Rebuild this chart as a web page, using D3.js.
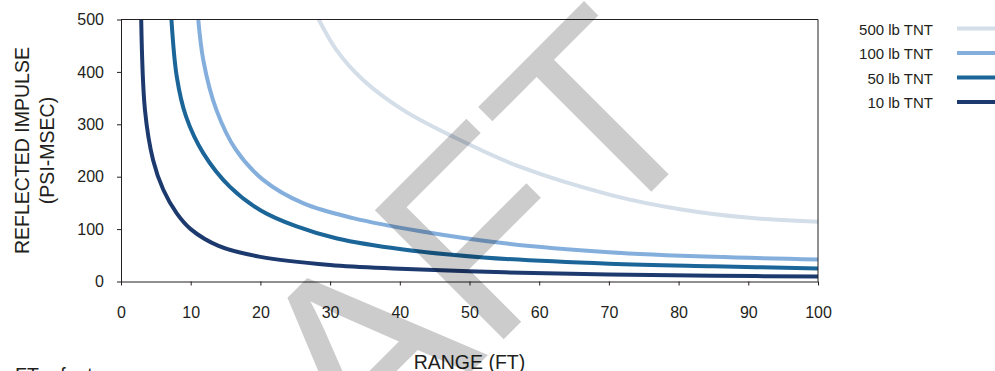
<!DOCTYPE html>
<html>
<head>
<meta charset="utf-8">
<script src="https://cdn.jsdelivr.net/npm/d3@7"></script>
<style>
    body { margin: 0; background: #fff; }
    svg text { font-family: "Liberation Sans", Arial, sans-serif; fill: #231f20; }
    .axis path, .axis line { stroke: #231f20; }
</style>
</head>
<body>
<svg id="impulse" width="995" height="371"></svg>
<script>
    // range in ft, reflected impulse in psi-msec
    var tnt10 = [[2.85, 540], [3.44, 327], [4.6, 232], [6.07, 175], [8, 130], [10, 100], [14, 68], [20, 47],
        [30, 31.5], [40, 24.5], [55, 17.5], [70, 13.5], [85, 11], [100, 9.5]];
    var tnt50 = [[7.1, 530], [8, 391], [9.35, 314], [11.8, 245], [15.6, 181], [20, 136], [25.2, 105], [31, 82],
        [40.5, 61], [52, 46], [70, 34], [85, 29], [100, 25]];
    var tnt100 = [[10.9, 530], [11.8, 423], [13.7, 327], [16.5, 251], [20.4, 194], [26.2, 149], [33.3, 121],
        [43, 96], [55, 73], [70, 56], [85, 47], [100, 42]];
    var tnt500 = [[27.6, 520], [30.9, 442], [34.7, 385], [40.5, 327], [47.7, 276], [57.2, 219], [70.6, 164],
        [80.2, 138], [89.8, 122], [100, 114]];

    var seriesNames = ["500 lb TNT", "100 lb TNT", "50 lb TNT", "10 lb TNT"];
    var seriesColors = ["#d3dee9", "#84afdd", "#1b6598", "#1d3a6f"];
    var seriesData = [tnt500, tnt100, tnt50, tnt10];

    var xTicks = [0, 10, 20, 30, 40, 50, 60, 70, 80, 90, 100];
    var yTicks = [0, 100, 200, 300, 400, 500];

    var svg = d3.select("svg#impulse"),
        margin = {top: 19.5, left: 121},
        width = 697,
        height = 262,
        g = svg.append("g").attr("transform", "translate(" + margin.left + "," + margin.top + ")");

    var x = d3.scaleLinear().domain([0, 100]).range([0, width]),
        y = d3.scaleLinear().domain([0, 500]).range([height, 0]);

    g.append("clipPath").attr("id", "plotClip")
        .append("rect").attr("width", width).attr("height", height);

    var line = d3.line()
        .curve(d3.curveCatmullRom.alpha(0.5))
        .x(function (d) { return x(d[0]); })
        .y(function (d) { return y(d[1]); });

    g.append("g")
        .attr("clip-path", "url(#plotClip)")
        .selectAll("path")
        .data(seriesData)
        .enter().append("path")
        .attr("d", line)
        .attr("fill", "none")
        .attr("stroke-width", 4)
        .attr("stroke", function (d, i) { return seriesColors[i]; });

    // frame
    g.append("path")
        .attr("d", "M0,0H" + width + "V" + height)
        .attr("fill", "none")
        .attr("stroke", "#231f20");

    var xAxis = g.append("g")
        .attr("class", "axis")
        .attr("transform", "translate(0," + height + ")")
        .call(d3.axisBottom(x).tickValues(xTicks).tickSize(4).tickPadding(21).tickSizeOuter(0));
    xAxis.selectAll("text").style("font-size", "16px");

    var yAxis = g.append("g")
        .attr("class", "axis")
        .call(d3.axisLeft(y).tickValues(yTicks).tickSize(4).tickPadding(13).tickSizeOuter(0));
    yAxis.selectAll("text").style("font-size", "16px");
    svg.selectAll(".axis .domain").attr("stroke", "#231f20");
    svg.selectAll(".axis text").attr("fill", "#231f20");

    // axis titles
    var yTitle = svg.append("text")
        .attr("transform", "translate(29," + (margin.top + height / 2) + ") rotate(-90)")
        .attr("text-anchor", "middle")
        .style("font-size", "19.5px");
    yTitle.append("tspan").attr("x", 0).attr("y", 0).text("REFLECTED IMPULSE");
    yTitle.append("tspan").attr("x", 0).attr("y", 25).text("(PSI-MSEC)");

    svg.append("text")
        .attr("x", margin.left + width / 2)
        .attr("y", 369)
        .attr("text-anchor", "middle")
        .style("font-size", "19.5px")
        .text("RANGE (FT)");

    svg.append("text")
        .attr("x", 15)
        .attr("y", 382)
        .style("font-size", "19.5px")
        .text("FT \u2013 feet");

    // legend
    var legend = svg.append("g").selectAll("g")
        .data(seriesNames)
        .enter().append("g")
        .attr("transform", function (d, i) { return "translate(0," + (28.5 + i * 24.5) + ")"; });

    legend.append("line")
        .attr("x1", 957).attr("x2", 1000)
        .attr("stroke-width", 4)
        .attr("stroke", function (d, i) { return seriesColors[i]; });

    legend.append("text")
        .attr("x", 933)
        .attr("dy", "0.42em")
        .attr("text-anchor", "end")
        .style("font-size", "15px")
        .text(function (d) { return d; });

    // watermark
    svg.append("text")
        .attr("transform", "translate(405,438) rotate(-45)")
        .attr("text-anchor", "middle")
        .style("font-size", "265px")
        .style("fill", "#000")
        .style("fill-opacity", 0.2)
        .text("DRAFT");
</script>
</body>
</html>
